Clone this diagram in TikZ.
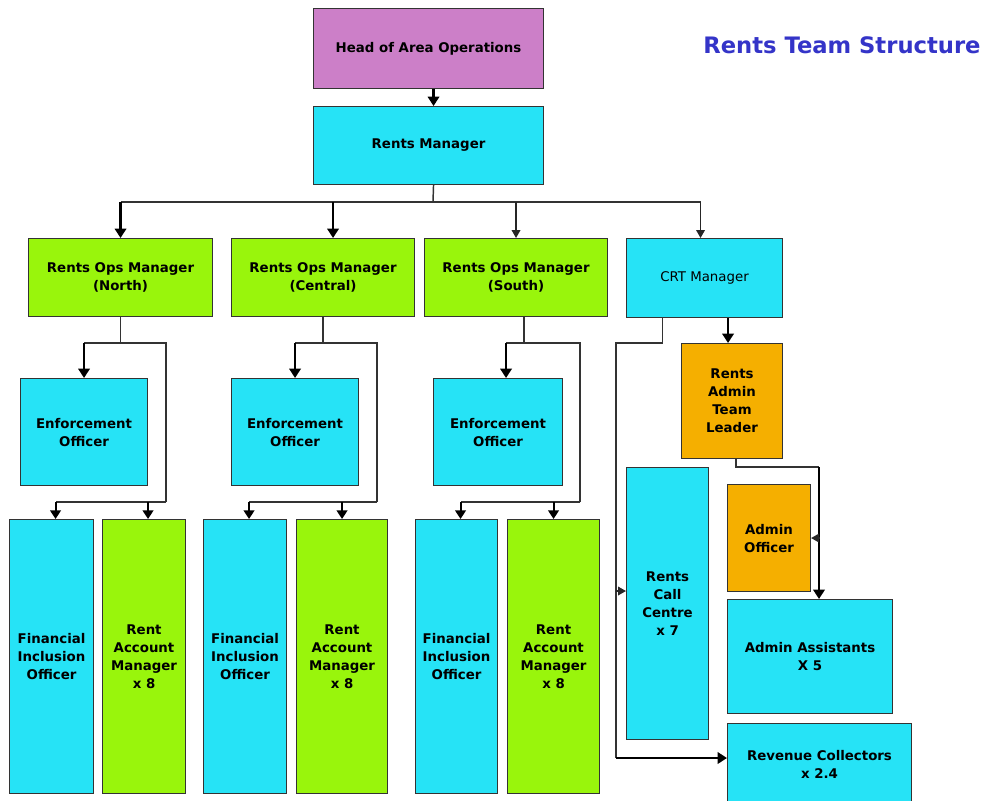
\documentclass[tikz,border=0pt]{standalone}
\usepackage{fontspec}
\setmainfont{DejaVu Sans}
\usepackage{tikz}
\usetikzlibrary{arrows.meta}
\definecolor{rentcyan}{RGB}{38,227,246}
\definecolor{rentgreen}{RGB}{153,245,12}
\definecolor{rentorange}{RGB}{245,175,0}
\definecolor{headpurple}{RGB}{204,127,200}
\definecolor{titleblue}{RGB}{52,52,200}
\newdimen\pxu \pxu=0.75pt
\tikzstyle{box} = [draw=black!80, line width=0.8pt, anchor=north west, inner sep=0pt, align=center, font=\bfseries\fontsize{10}{13.5}\selectfont]
\tikzstyle{head_box} = [box, fill=headpurple]
\tikzstyle{cyan_box} = [box, fill=rentcyan]
\tikzstyle{green_box} = [box, fill=rentgreen]
\tikzstyle{orange_box} = [box, fill=rentorange]
\tikzstyle{rail} = [draw, black!80, line width=1.1pt]
\tikzstyle{line} = [draw, black!85, line width=1.1pt, -{Triangle[length=6pt, width=6.5pt]}]
\tikzstyle{mid_line} = [draw, black, line width=1.5pt, -{Triangle[length=6.5pt, width=8pt]}]
\tikzstyle{bold_line} = [draw, black, line width=2.1pt, -{Triangle[length=7pt, width=8.5pt]}]
\tikzstyle{title} = [text=titleblue, font=\bfseries\fontsize{17}{20}\selectfont]

\begin{document}
\begin{tikzpicture}[x=0.75pt, y=-0.75pt]
	\useasboundingbox (0,0) rectangle (989,800);
	\node [title] (title) at (842,45) {Rents Team Structure};

	\node [head_box, minimum width=230\pxu, minimum height=80\pxu] (ham) at (313,8) {Head of Area Operations};
	\node [cyan_box, minimum width=230\pxu, minimum height=78\pxu] (rm) at (313,106) {Rents Manager};

	\node [green_box, minimum width=184\pxu, minimum height=78\pxu] (ropN) at (28,238) {Rents Ops Manager\\(North)};
	\node [green_box, minimum width=183\pxu, minimum height=78\pxu] (ropC) at (231,238) {Rents Ops Manager\\(Central)};
	\node [green_box, minimum width=183\pxu, minimum height=78\pxu] (ropS) at (424,238) {Rents Ops Manager\\(South)};
	\node [cyan_box, minimum width=156\pxu, minimum height=79\pxu, font=\fontsize{10}{13.5}\selectfont] (crt) at (626,238) {CRT Manager};

	\node [cyan_box, minimum width=127\pxu, minimum height=107\pxu] (eoN) at (20,378) {Enforcement\\Officer};
	\node [cyan_box, minimum width=127\pxu, minimum height=107\pxu] (eoC) at (231,378) {Enforcement\\Officer};
	\node [cyan_box, minimum width=129\pxu, minimum height=107\pxu] (eoS) at (433,378) {Enforcement\\Officer};

	\node [cyan_box, minimum width=84\pxu, minimum height=274\pxu] (fioN) at (9,519) {Financial\\Inclusion\\Officer};
	\node [green_box, minimum width=83\pxu, minimum height=274\pxu] (ramN) at (102,519) {Rent\\Account\\Manager\\x 8};
	\node [cyan_box, minimum width=83\pxu, minimum height=274\pxu] (fioC) at (203,519) {Financial\\Inclusion\\Officer};
	\node [green_box, minimum width=91\pxu, minimum height=274\pxu] (ramC) at (296,519) {Rent\\Account\\Manager\\x 8};
	\node [cyan_box, minimum width=82\pxu, minimum height=274\pxu] (fioS) at (415,519) {Financial\\Inclusion\\Officer};
	\node [green_box, minimum width=92\pxu, minimum height=274\pxu] (ramS) at (507,519) {Rent\\Account\\Manager\\x 8};

	\node [orange_box, minimum width=101\pxu, minimum height=115\pxu] (ratl) at (681,343) {Rents\\Admin\\Team\\Leader};
	\node [cyan_box, minimum width=82\pxu, minimum height=272\pxu] (rcc) at (626,467) {Rents\\Call\\Centre\\x 7};
	\node [orange_box, minimum width=83\pxu, minimum height=107\pxu] (ao) at (727,484) {Admin\\Officer};
	\node [cyan_box, minimum width=165\pxu, minimum height=114\pxu] (aa) at (727,599) {Admin Assistants\\X 5};
	\node [cyan_box, minimum width=184\pxu, minimum height=82\pxu] (rc) at (727,723) {Revenue Collectors\\x 2.4};

	\path [bold_line] ([xshift=5\pxu]ham.south) -- ([xshift=5\pxu]rm.north);

	\coordinate (bus) at (433,202);
	\path [rail] ([xshift=5\pxu]rm.south) -- (bus);
	\path [rail] (ropN.north |- bus) -- ([xshift=-4\pxu]crt.north |- bus);
	\path [bold_line] (ropN.north |- bus) -- (ropN.north);
	\path [bold_line] ([xshift=10\pxu]ropC.north |- bus) -- ([xshift=10\pxu]ropC.north);
	\path [line] (ropS.north |- bus) -- (ropS.north);
	\path [line] ([xshift=-4\pxu]crt.north |- bus) -- ([xshift=-4\pxu]crt.north);

	\coordinate (railN) at (166,343);
	\coordinate (jN) at (166,502);
	\path [rail] (ropN.south) |- (railN) -- (jN);
	\path [rail] (ropN.south |- railN) -- (eoN.north |- railN);
	\path [rail] (jN) -- ([xshift=4\pxu]fioN.north |- jN);
	\path [bold_line] (eoN.north |- railN) -- (eoN.north);
	\path [mid_line] ([xshift=4\pxu]fioN.north |- jN) -- ([xshift=4\pxu]fioN.north);
	\path [mid_line] ([xshift=4\pxu]ramN.north |- jN) -- ([xshift=4\pxu]ramN.north);

	\coordinate (railC) at (377,343);
	\coordinate (jC) at (377,502);
	\path [rail] (ropC.south) |- (railC) -- (jC);
	\path [rail] (ropC.south |- railC) -- (eoC.north |- railC);
	\path [rail] (jC) -- ([xshift=4\pxu]fioC.north |- jC);
	\path [bold_line] (eoC.north |- railC) -- (eoC.north);
	\path [mid_line] ([xshift=4\pxu]fioC.north |- jC) -- ([xshift=4\pxu]fioC.north);
	\path [mid_line] (ramC.north |- jC) -- (ramC.north);

	\coordinate (railS) at (580,343);
	\coordinate (jS) at (580,502);
	\path [rail] ([xshift=8\pxu]ropS.south) |- (railS) -- (jS);
	\path [rail] ([xshift=8\pxu]ropS.south |- railS) -- ([xshift=8\pxu]eoS.north |- railS);
	\path [rail] (jS) -- ([xshift=4\pxu]fioS.north |- jS);
	\path [bold_line] ([xshift=8\pxu]eoS.north |- railS) -- ([xshift=8\pxu]eoS.north);
	\path [mid_line] ([xshift=4\pxu]fioS.north |- jS) -- ([xshift=4\pxu]fioS.north);
	\path [mid_line] (ramS.north |- jS) -- (ramS.north);

	\coordinate (railW) at (616,343);
	\coordinate (railWend) at (616,758);
	\coordinate (rccin) at (616,591);
	\path [rail] ([xshift=-42\pxu]crt.south) |- (railW) -- (railWend);
	\path [bold_line] (railWend) -- (rc.west |- railWend);
	\path [line] (rccin) -- (rcc.west |- rccin);

	\path [bold_line] ([xshift=-4\pxu]ratl.north |- crt.south) -- ([xshift=-4\pxu]ratl.north);
	\coordinate (railE) at (819,467);
	\path [rail] ([xshift=4\pxu]ratl.south) |- (railE);
	\path [bold_line] (railE) -- (railE |- aa.north);
	\path [line] (railE |- ao.east) -- (ao.east);
\end{tikzpicture}
\end{document}
